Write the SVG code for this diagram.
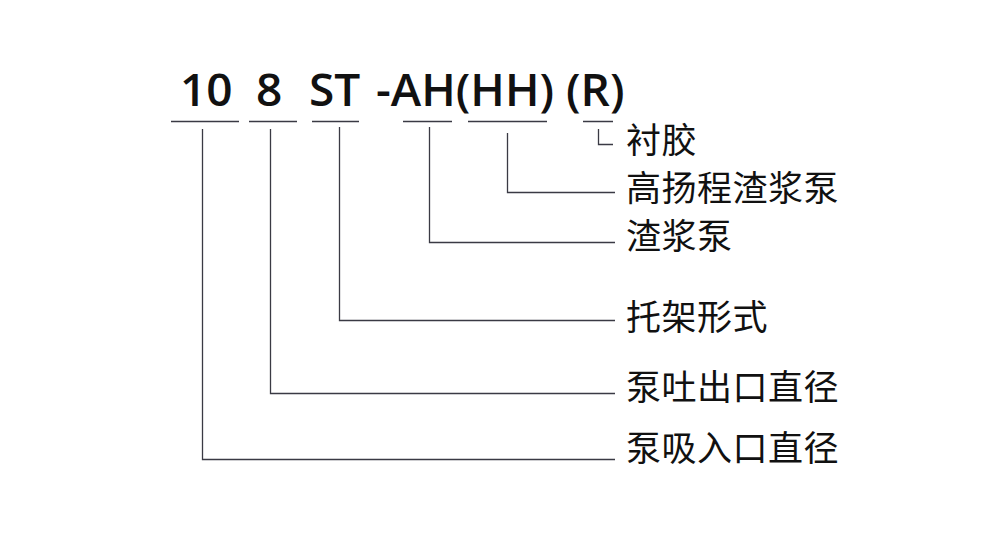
<svg xmlns="http://www.w3.org/2000/svg" width="993" height="539" viewBox="0 0 993 539">
<style>
.code{font-family:"Open Sans","Liberation Sans",sans-serif;font-weight:600;font-size:46px;fill:#111}
.lbl{font-family:"Noto Sans CJK SC","Noto Sans",sans-serif;font-size:35px;fill:#111;letter-spacing:0.5px}
.ln{fill:none;stroke:#3a3a44;stroke-width:1.3}
</style>
<rect width="993" height="539" fill="#fff"/>
<g id="code">
<text class="code" x="180" y="106">10</text>
<text class="code" x="256" y="106">8</text>
<text class="code" x="309" y="106">ST</text>
<text class="code" x="376" y="106">-AH(HH) (R)</text>
</g>
<g id="connectors">
<path class="ln" d="M171,121.5H239M249,121.5H297M312,121.5H359M403,121.5H452M468,121.5H547M583,121.5H613"/>
<path class="ln" d="M202.5,129V459.5H615"/>
<path class="ln" d="M270.5,129V393.5H615"/>
<path class="ln" d="M339.5,127V320.5H615"/>
<path class="ln" d="M429.5,127V242.5H615"/>
<path class="ln" d="M507.5,133V192.5H615"/>
<path class="ln" d="M598.5,129V144.5H613"/>
</g>
<g id="n-lining"><text class="lbl" x="626" y="153">衬胶</text></g>
<g id="n-highhead"><text class="lbl" x="626" y="201">高扬程渣浆泵</text></g>
<g id="n-slurry"><text class="lbl" x="626" y="249">渣浆泵</text></g>
<g id="n-frame"><text class="lbl" x="626" y="330">托架形式</text></g>
<g id="n-outlet"><text class="lbl" x="626" y="400">泵吐出口直径</text></g>
<g id="n-inlet"><text class="lbl" x="626" y="461">泵吸入口直径</text></g>
</svg>
